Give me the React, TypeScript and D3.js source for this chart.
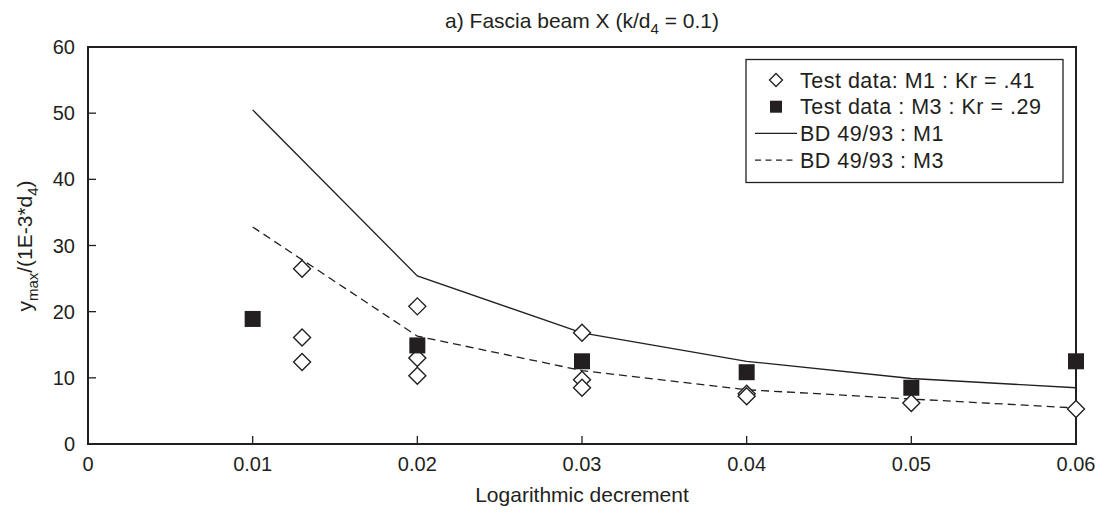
import React, { useEffect, useRef } from 'react';
import * as d3 from 'd3';

// values
const deltas = [0.01, 0.02, 0.03, 0.04, 0.05, 0.06];
const bdM1 = [50.5, 25.4, 16.8, 12.5, 9.9, 8.5];
const bdM3 = [32.8, 16.3, 11.1, 8.2, 6.8, 5.45];

const testM1X = [0.013, 0.013, 0.013, 0.02, 0.02, 0.02, 0.03, 0.03, 0.03, 0.04, 0.04, 0.05, 0.06];
const testM1Y = [26.5, 16.1, 12.4, 20.8, 13.0, 10.3, 16.8, 9.7, 8.5, 7.6, 7.2, 6.2, 5.3];

const testM3X = [0.01, 0.02, 0.03, 0.04, 0.05, 0.06];
const testM3Y = [18.9, 14.9, 12.5, 10.85, 8.5, 12.5];

const xTicks = [0, 0.01, 0.02, 0.03, 0.04, 0.05, 0.06];
const yTicks = [0, 10, 20, 30, 40, 50, 60];

const legendLabels = [
  'Test data: M1 : Kr = .41',
  'Test data : M3 : Kr = .29',
  'BD 49/93 : M1',
  'BD 49/93 : M3',
];

const W = 1104;
const H = 517;
const INK = '#231f20';
const FONT = '"Liberation Sans", Arial, sans-serif';

const App = () => {
  const ref = useRef<SVGSVGElement>(null);

  useEffect(() => {
    const svg = d3.select(ref.current);
    svg.selectAll('*').remove();

    const x = d3.scaleLinear().domain([0, 0.06]).range([88, 1076]);
    const y = d3.scaleLinear().domain([0, 60]).range([444, 47]);

    svg.append('rect').attr('width', W).attr('height', H).attr('fill', '#fff');

    // ticks (inward)
    const g = svg.append('g').attr('stroke', INK).attr('stroke-width', 1.3);
    g.selectAll('.yt').data(yTicks.slice(1, -1)).join('line')
      .attr('x1', x(0)).attr('x2', x(0) + 8)
      .attr('y1', d => y(d)).attr('y2', d => y(d));
    g.selectAll('.xt').data(xTicks.slice(1, -1)).join('line')
      .attr('x1', d => x(d)).attr('x2', d => x(d))
      .attr('y1', y(0)).attr('y2', y(0) - 8);

    // frame
    svg.append('rect')
      .attr('x', x(0)).attr('y', y(60))
      .attr('width', x(0.06) - x(0)).attr('height', y(0) - y(60))
      .attr('fill', 'none').attr('stroke', INK).attr('stroke-width', 2);

    // tick labels
    svg.append('g').attr('font-family', FONT).attr('font-size', 20).attr('fill', INK)
      .attr('text-anchor', 'end')
      .selectAll('text').data(yTicks).join('text')
      .attr('x', 75).attr('y', d => y(d) + 7)
      .text(d => d);
    svg.append('g').attr('font-family', FONT).attr('font-size', 20).attr('fill', INK)
      .attr('text-anchor', 'middle')
      .selectAll('text').data(xTicks).join('text')
      .attr('x', d => x(d)).attr('y', 471)
      .text(d => d === 0 ? '0' : d3.format('.2f')(d));

    // BD 49/93 curves
    const line = d3.line<number>().x((d, i) => x(deltas[i])).y(d => y(d));
    svg.append('path').attr('d', line(bdM1)).attr('fill', 'none')
      .attr('stroke', INK).attr('stroke-width', 1.3);
    svg.append('path').attr('d', line(bdM3)).attr('fill', 'none')
      .attr('stroke', INK).attr('stroke-width', 1.3).attr('stroke-dasharray', '8,5');

    const diamond = (cx: number, cy: number, r: number) =>
      `M${cx},${cy - r}L${cx + r},${cy}L${cx},${cy + r}L${cx - r},${cy}Z`;

    // test data M1 (open diamonds)
    svg.append('g').selectAll('path').data(testM1Y).join('path')
      .attr('d', (d, i) => diamond(x(testM1X[i]), y(d), 8.5))
      .attr('fill', '#fff').attr('stroke', INK).attr('stroke-width', 1.4);

    // test data M3 (filled squares)
    svg.append('g').selectAll('rect').data(testM3Y).join('rect')
      .attr('x', (d, i) => x(testM3X[i]) - 8).attr('y', d => y(d) - 8)
      .attr('width', 16).attr('height', 16).attr('fill', INK);

    // legend
    const lg = svg.append('g');
    lg.append('rect').attr('x', 746).attr('y', 59.5).attr('width', 317).attr('height', 123)
      .attr('fill', '#fff').attr('stroke', INK).attr('stroke-width', 1.3);
    const rowY = (i: number) => 80 + i * 26.7;
    lg.append('path').attr('d', diamond(776, rowY(0), 6.5))
      .attr('fill', '#fff').attr('stroke', INK).attr('stroke-width', 1.3);
    lg.append('rect').attr('x', 770).attr('y', rowY(1) - 6).attr('width', 12).attr('height', 12)
      .attr('fill', INK);
    lg.append('line').attr('x1', 755).attr('x2', 797).attr('y1', rowY(2)).attr('y2', rowY(2))
      .attr('stroke', INK).attr('stroke-width', 1.3);
    lg.append('line').attr('x1', 755).attr('x2', 797).attr('y1', rowY(3)).attr('y2', rowY(3))
      .attr('stroke', INK).attr('stroke-width', 1.3).attr('stroke-dasharray', '6,4.5');
    lg.selectAll('text').data(legendLabels).join('text')
      .attr('x', 800).attr('y', (d, i) => rowY(i) + 7.5)
      .attr('font-family', FONT).attr('font-size', 21.5).attr('letter-spacing', 0.5)
      .attr('fill', INK)
      .text(d => d);

    // title
    const t = svg.append('text').attr('x', 582).attr('y', 28)
      .attr('text-anchor', 'middle').attr('font-family', FONT).attr('font-size', 21).attr('fill', INK);
    t.append('tspan').text('a) Fascia beam X (k/d');
    t.append('tspan').attr('font-size', 15).attr('dy', 6).text('4');
    t.append('tspan').attr('dy', -6).text(' = 0.1)');

    // x axis title
    svg.append('text').attr('x', 582).attr('y', 502)
      .attr('text-anchor', 'middle').attr('font-family', FONT).attr('font-size', 21).attr('fill', INK)
      .text('Logarithmic decrement');

    // y axis title
    const yt = svg.append('text')
      .attr('transform', 'translate(32,246) rotate(-90)')
      .attr('text-anchor', 'middle').attr('font-family', FONT).attr('font-size', 21).attr('fill', INK);
    yt.append('tspan').text('y');
    yt.append('tspan').attr('font-size', 15).attr('dy', 6).text('max');
    yt.append('tspan').attr('dy', -6).text('/(1E-3*d');
    yt.append('tspan').attr('font-size', 15).attr('dy', 6).text('4');
    yt.append('tspan').attr('dy', -6).text(')');
  });

  return (
    <svg
      ref={ref}
      width={W}
      height={H}
      style={{ position: 'absolute', left: 0, top: 0, display: 'block' }}
    />
  );
};

export default App;
